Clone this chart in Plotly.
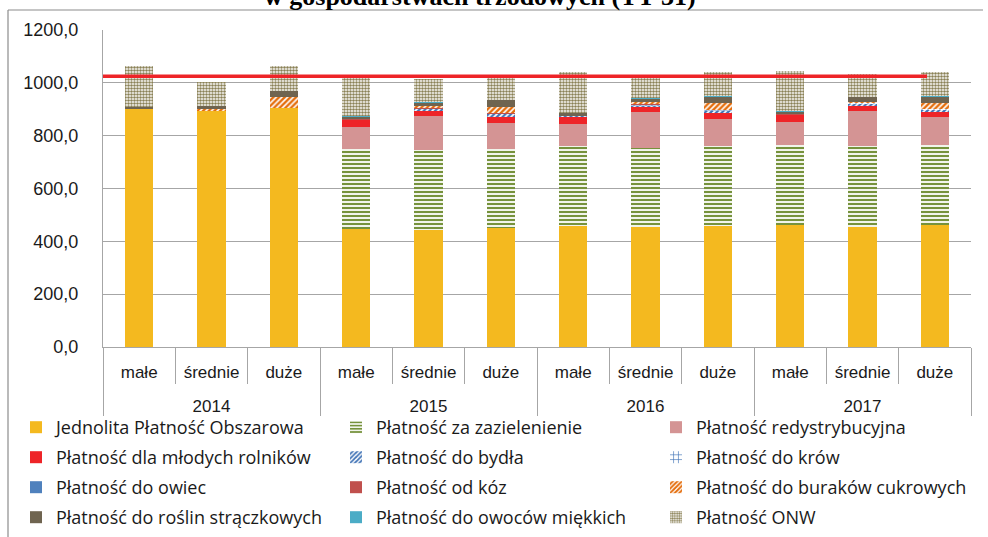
import plotly.graph_objects as go

# ---------------- data ----------------
years = ["2014", "2014", "2014", "2015", "2015", "2015",
         "2016", "2016", "2016", "2017", "2017", "2017"]
sizes = ["małe", "średnie", "duże"] * 4

jpo             = [900, 893, 904, 448, 444, 451, 458, 454, 458, 463, 456, 463]
zazielenienie   = [0, 0, 0, 302, 300, 299, 302, 300, 302, 303, 304, 303]
redystrybucyjna = [0, 0, 0, 82, 130, 99, 85, 135, 104, 85, 133, 104]
mlodzi          = [0, 0, 0, 29, 19, 21, 29, 19, 21, 28, 18, 19]
bydlo           = [0, 0, 0, 1, 8, 13, 1, 8, 11, 1, 12, 11]
krowy           = [0, 0, 0, 0.5, 2, 2, 0.5, 2, 2, 0.5, 2, 2]
owce            = [0, 0, 0, 0.3, 0.3, 0.3, 0.3, 0.3, 0.3, 0.3, 0.3, 0.3]
kozy            = [0, 0, 0, 0.1, 0.1, 0.1, 0.1, 0.1, 0.1, 0.1, 0.1, 0.1]
buraki          = [0, 8, 44, 0, 9, 25, 0, 9, 25, 0, 3, 23]
straczkowe      = [10, 10, 20, 11, 15, 25, 11, 13, 26, 12, 18, 24]
owoce           = [0, 0, 0, 0.5, 0.5, 1, 0.5, 0.5, 1, 0.5, 0.5, 1]
onw             = [155, 91, 94, 149, 85, 95, 155, 81, 91, 153, 88, 91]

reference_level = 1025
y_ticks = [0, 200, 400, 600, 800, 1000, 1200]

title_text = "w gospodarstwach trzodowych (TT-31)"

# ---------------- style ----------------
FONT = "Liberation Sans, Arial, sans-serif"
LEG_FONT = "Open Sans, Liberation Sans, sans-serif"
GRID = "#A6A6A6"

# an extra blank line under each size label leaves room between the two label rows
size_labels = [s + "<br>\u00a0" for s in sizes]


def patt(shape, fg, bg="white", size=4, solidity=0.5):
    return dict(color=fg, pattern=dict(shape=shape, fgcolor=fg, bgcolor=bg,
                                       size=size, solidity=solidity, fillmode="replace"))


series = [
    ("Jednolita Płatność Obszarowa", jpo, dict(color="#F4B91F"), "legend"),
    ("Płatność za zazielenienie", zazielenienie, patt("-", "#76923C", size=4, solidity=0.55), "legend"),
    ("Płatność redystrybucyjna", redystrybucyjna, dict(color="#D49494"), "legend"),
    ("Płatność dla młodych rolników", mlodzi, dict(color="#EE2428"), "legend2"),
    ("Płatność do bydła", bydlo, patt("/", "#3F72B5", size=4, solidity=0.55), "legend2"),
    ("Płatność do krów", krowy, patt("+", "#3F72B5", size=6, solidity=0.25), "legend2"),
    ("Płatność do owiec", owce, dict(color="#4F81BD"), "legend3"),
    ("Płatność od kóz", kozy, dict(color="#C0504D"), "legend3"),
    ("Płatność do buraków cukrowych", buraki, patt("/", "#E46C0A", size=4, solidity=0.6), "legend3"),
    ("Płatność do roślin strączkowych", straczkowe, dict(color="#6F6450"), "legend4"),
    ("Płatność do owoców miękkich", owoce, dict(color="#4BACC6"), "legend4"),
    ("Płatność ONW", onw, patt(".", "#8A8156", bg="#FFFFFF", size=3, solidity=0.55), "legend4"),
]

fig = go.Figure()
for name, vals, marker, leg in series:
    m = dict(marker)
    m["line"] = dict(width=0)
    fig.add_trace(go.Bar(x=[years, size_labels], y=vals, name=name, marker=m, legend=leg))

W, H = 988, 537
ML, MR, MT, MB = 103, 17, 30, 190
PW, PH = W - ML - MR, H - MT - MB


def px_x(p):
    return (p - ML) / PW


def px_y(p):
    return (H - MB - p) / PH


leg_common = dict(orientation="h", xanchor="left", yanchor="top",
                  x=px_x(16), entrywidth=275, entrywidthmode="pixels",
                  font=dict(family=LEG_FONT, size=18, color="#1a1a1a"),
                  bgcolor="rgba(0,0,0,0)", traceorder="normal")
row_tops = [409, 439, 469, 499]

fig.update_layout(
    width=W, height=H,
    margin=dict(l=ML, r=MR, t=MT, b=MB, autoexpand=False),
    paper_bgcolor="white", plot_bgcolor="white",
    barmode="stack", bargap=0.61,
    separators=", ",
    font=dict(family=FONT, color="#1a1a1a"),
    legend=dict(leg_common, y=px_y(row_tops[0])),
    legend2=dict(leg_common, y=px_y(row_tops[1])),
    legend3=dict(leg_common, y=px_y(row_tops[2])),
    legend4=dict(leg_common, y=px_y(row_tops[3])),
    xaxis=dict(type="multicategory", showline=True, linecolor=GRID, linewidth=1.3,
               showdividers=True, dividercolor=GRID, dividerwidth=1.3,
               ticks="outside", ticklen=36, tickcolor=GRID, tickwidth=1.3,
               tickson="boundaries", ticklabelstandoff=9,
               tickfont=dict(family=FONT, size=17, color="#1a1a1a"),
               showgrid=False),
    yaxis=dict(range=[0, 1200], tickvals=y_ticks, tickformat=".1f",
               showgrid=True, gridcolor=GRID, gridwidth=1.3,
               showline=True, linecolor=GRID, linewidth=1.3,
               zeroline=False, ticks="", ticklabelstandoff=20,
               tickfont=dict(family=FONT, size=18, color="#1a1a1a")),
    shapes=[
        dict(type="line", xref="paper", yref="y", x0=0, x1=px_x(927),
             y0=reference_level, y1=reference_level,
             line=dict(color="#EE2428", width=3.5)),
        dict(type="line", xref="paper", yref="paper", x0=px_x(8), x1=px_x(983),
             y0=px_y(10), y1=px_y(10), line=dict(color="#8C8C8C", width=1.2)),
        dict(type="line", xref="paper", yref="paper", x0=px_x(8), x1=px_x(8),
             y0=px_y(10), y1=px_y(540), line=dict(color="#8C8C8C", width=1.2)),
    ],
    annotations=[
        dict(text="<b>" + title_text + "</b>", xref="paper", yref="paper",
             x=px_x(480), y=px_y(13), xanchor="center", yanchor="bottom",
             showarrow=False, font=dict(family="Liberation Serif, Times New Roman, serif",
                                        size=26, color="#000")),
    ],
)

fig.write_html("out.html", config={"displayModeBar": False},
               post_script="document.body.style.margin='0';")
